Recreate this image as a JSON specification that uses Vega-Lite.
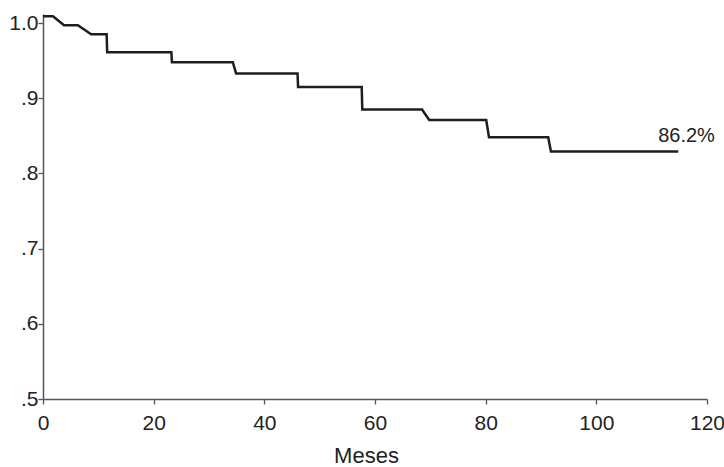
{
  "$schema": "https://vega.github.io/schema/vega-lite/v6.json",
  "width": 664,
  "height": 385,
  "autosize": {"type": "none"},
  "padding": {"left": 43, "top": 14, "right": 17, "bottom": 68},
  "background": "white",
  "config": {
    "view": {"stroke": null},
    "font": "Liberation Sans"
  },
  "layer": [
    {
      "data": {
        "values": [
          {"meses": 0, "sobrevida": 1.009},
          {"meses": 1.8, "sobrevida": 1.009},
          {"meses": 3.8, "sobrevida": 0.997},
          {"meses": 6.3, "sobrevida": 0.997},
          {"meses": 8.7, "sobrevida": 0.985},
          {"meses": 11.5, "sobrevida": 0.985},
          {"meses": 11.6, "sobrevida": 0.961},
          {"meses": 23.2, "sobrevida": 0.961},
          {"meses": 23.3, "sobrevida": 0.948},
          {"meses": 34.3, "sobrevida": 0.948},
          {"meses": 34.9, "sobrevida": 0.933},
          {"meses": 46.0, "sobrevida": 0.933},
          {"meses": 46.1, "sobrevida": 0.915},
          {"meses": 57.6, "sobrevida": 0.915},
          {"meses": 57.7, "sobrevida": 0.885},
          {"meses": 68.5, "sobrevida": 0.885},
          {"meses": 69.8, "sobrevida": 0.871},
          {"meses": 80.1, "sobrevida": 0.871},
          {"meses": 80.6, "sobrevida": 0.848},
          {"meses": 91.3, "sobrevida": 0.848},
          {"meses": 91.8, "sobrevida": 0.829},
          {"meses": 114.8, "sobrevida": 0.829}
        ]
      },
      "mark": {"type": "line", "color": "#1e1e1e", "strokeWidth": 2.5, "strokeJoin": "miter"},
      "encoding": {
        "x": {
          "field": "meses",
          "type": "quantitative",
          "scale": {"domain": [0, 120], "nice": false, "zero": false},
          "axis": {
            "values": [0, 20, 40, 60, 80, 100, 120],
            "title": "Meses",
            "titleFont": "Liberation Sans",
            "titleFontSize": 22,
            "titleFontWeight": "normal",
            "titleColor": "#222",
            "titlePadding": 12,
            "titleX": 323,
            "titleAnchor": "middle",
            "labelFont": "Liberation Sans",
            "labelFontSize": 21,
            "labelColor": "#222",
            "labelPadding": 8,
            "labelFlush": false,
            "domainColor": "#555",
            "domainWidth": 1.5,
            "tickColor": "#555",
            "tickSize": 5,
            "tickWidth": 1.3,
            "grid": false
          }
        },
        "y": {
          "field": "sobrevida",
          "type": "quantitative",
          "scale": {"domain": [0.5, 1.012], "nice": false, "zero": false},
          "axis": {
            "values": [0.5, 0.6, 0.7, 0.8, 0.9, 1.0],
            "labelExpr": "datum.value >= 0.999 ? '1.0' : slice(format(datum.value, '.1f'), 1)",
            "title": null,
            "labelFont": "Liberation Sans",
            "labelFontSize": 21,
            "labelColor": "#222",
            "labelPadding": 0,
            "labelFlush": false,
            "domainColor": "#555",
            "domainWidth": 1.5,
            "tickColor": "#555",
            "tickSize": 5,
            "tickWidth": 1.3,
            "grid": false
          }
        }
      }
    },
    {
      "data": {"values": [{"meses": 116.3, "sobrevida": 0.8415, "etiqueta": "86.2%"}]},
      "mark": {"type": "text", "font": "Liberation Sans", "fontSize": 20, "color": "#222", "align": "center", "baseline": "alphabetic"},
      "encoding": {
        "x": {"field": "meses", "type": "quantitative"},
        "y": {"field": "sobrevida", "type": "quantitative"},
        "text": {"field": "etiqueta"}
      }
    }
  ]
}
